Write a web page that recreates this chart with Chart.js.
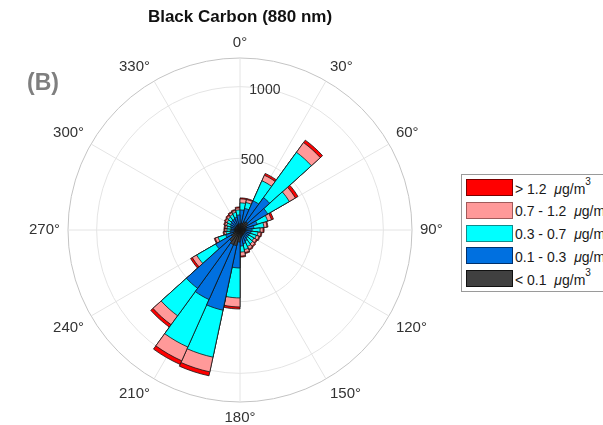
<!DOCTYPE html>
<html>
<head>
<meta charset="utf-8">
<script src="https://cdn.jsdelivr.net/npm/chart.js@4.4.0/dist/chart.umd.min.js"></script>
<style>
  body { margin: 0; overflow: hidden; background: #fff; font-family: "Liberation Sans", Arial, sans-serif; }
  #wrap { position: relative; width: 603px; height: 425px; overflow: hidden; }
  #panel { position: absolute; left: 27px; top: 69px; line-height: 23px; font: bold 23px "Liberation Sans", Arial, sans-serif; color: #7f7f7f; }
  #legend { position: absolute; left: 461px; top: 174px; width: 170px; height: 116px; border: 1px solid #9a9a9a; background: #fff; }
  .row { position: absolute; left: 4px; height: 17px; display: flex; align-items: center; font-size: 14px; color: #1a1a1a; white-space: nowrap; }
  .sw { width: 45px; height: 15px; border: 1px solid #222; margin-right: 2px; }
  .row sup { font-size: 10px; position: relative; top: -3px; }
</style>
</head>
<body>
<div id="wrap">
  <canvas id="rose" width="603" height="425"></canvas>
  <div id="panel">(B)</div>
  <div id="legend"></div>
</div>
<script>
// angle tick labels (every 30 deg)
var angleLabels = ['0°', '30°', '60°', '90°', '120°', '150°', '180°', '210°', '240°', '270°', '300°', '330°'];
var radialTicks = [0, 500, 1000, 1200];
var radialTickLabels = [500, 1000];

// concentration bins, drawn inside out
var binLabels = ['< 0.1', '0.1 - 0.3', '0.3 - 0.7', '0.7 - 1.2', '> 1.2'];
var binColors = ['#404040', '#0070e0', '#00ffff', '#ff9999', '#ff0000'];
var binEdges = ['#111111', '#00306a', '#108c8c', '#a05a5a', '#7a0000'];

// counts per direction sector: 30 sectors of 12 deg, clockwise from north
var bcBelow01 = [42, 49, 63, 70, 63, 49, 42, 35, 35, 35, 35, 35, 35, 42, 49, 84, 112, 112, 98, 70, 49, 35, 35, 35, 35, 35, 35, 35, 35, 42];
var bc01to03 = [98, 105, 160, 209, 160, 77, 56, 49, 42, 35, 35, 35, 49, 56, 63, 181, 460, 419, 405, 126, 56, 35, 28, 28, 35, 42, 49, 49, 56, 63];
var bc03to07 = [49, 42, 153, 391, 174, 77, 70, 56, 49, 49, 42, 49, 42, 42, 42, 209, 335, 363, 237, 153, 56, 28, 28, 28, 28, 28, 28, 35, 35, 35];
var bc07to12 = [28, 21, 42, 84, 49, 28, 21, 21, 21, 21, 21, 21, 21, 21, 28, 63, 105, 105, 77, 35, 21, 14, 14, 14, 14, 14, 14, 14, 14, 14];
var bcAbove12 = [7, 7, 14, 21, 21, 14, 7, 7, 7, 7, 7, 7, 7, 7, 7, 14, 28, 28, 21, 14, 7, 7, 7, 7, 7, 7, 7, 7, 7, 7];

var bins = [bcBelow01, bc01to03, bc03to07, bc07to12, bcAbove12];

// stack: each dataset holds the running total, inner bins sit on top
var running = bcBelow01.map(function () { return 0; });
var datasets = bins.map(function (vals, i) {
    running = running.map(function (r, k) { return r + vals[k]; });
    return {
        label: binLabels[i],
        data: running.slice(),
        backgroundColor: binColors[i],
        borderColor: '#141414',
        borderWidth: 0.8,
        order: i
    };
});

// legend, top row is the highest bin
var legend = document.getElementById('legend');
for (var i = 0; i < binLabels.length; i++) {
    var b = binLabels.length - 1 - i;
    var row = document.createElement('div');
    row.className = 'row';
    row.style.top = (4 + i * 22.8) + 'px';
    row.innerHTML = '<div class="sw" style="background:' + binColors[b] + ';border-color:' + binEdges[b] + '"></div>' +
        '<span>' + binLabels[b].replace('<', '&lt;') + '&nbsp;&nbsp;<i>μ</i>g/m<sup>3</sup></span>';
    legend.appendChild(row);
}

var rTickPlugin = {
    id: 'rTickLabels',
    afterDraw: function (chart) {
        var s = chart.scales.r;
        var c = chart.ctx;
        c.save();
        c.font = '14px "Liberation Sans", Arial, sans-serif';
        c.fillStyle = '#333';
        c.textAlign = 'center';
        c.textBaseline = 'middle';
        radialTickLabels.forEach(function (v) {
            // 10 deg east of north
            var p = s.getPointPosition(1 / 3, s.getDistanceFromCenterForValue(v));
            c.fillText(String(v), p.x, p.y + 1);
        });
        c.restore();
    }
};

var ctx = document.getElementById('rose').getContext('2d');
var rose = new Chart(ctx, {
    type: 'polarArea',
    data: {
        labels: angleLabels,
        datasets: datasets
    },
    options: {
        responsive: false,
        animation: false,
        layout: { padding: { left: 0, right: 123, top: 0, bottom: 0 } },
        plugins: {
            legend: { display: false },
            tooltip: { enabled: false },
            title: {
                display: true,
                text: 'Black Carbon (880 nm)',
                color: '#111',
                font: { family: '"Liberation Sans", Arial, sans-serif', size: 17, weight: 'bold', lineHeight: 1.2 },
                padding: { top: 7, bottom: 7.6 }
            }
        },
        scales: {
            r: {
                min: 0,
                max: 1200,
                startAngle: 0,
                afterBuildTicks: function (s) {
                    s.ticks = radialTicks.map(function (v) { return { value: v }; });
                },
                ticks: { display: false },
                grid: {
                    circular: true,
                    lineWidth: 1,
                    color: function (c) { return c.tick && c.tick.value === 1200 ? '#c4c4c4' : '#e4e4e4'; }
                },
                angleLines: { display: true, color: '#e4e4e4', lineWidth: 1 },
                pointLabels: {
                    display: true,
                    padding: 8,
                    color: '#333',
                    font: { family: '"Liberation Sans", Arial, sans-serif', size: 15, lineHeight: 1 }
                }
            }
        }
    },
    plugins: [rTickPlugin]
});
</script>
</body>
</html>
